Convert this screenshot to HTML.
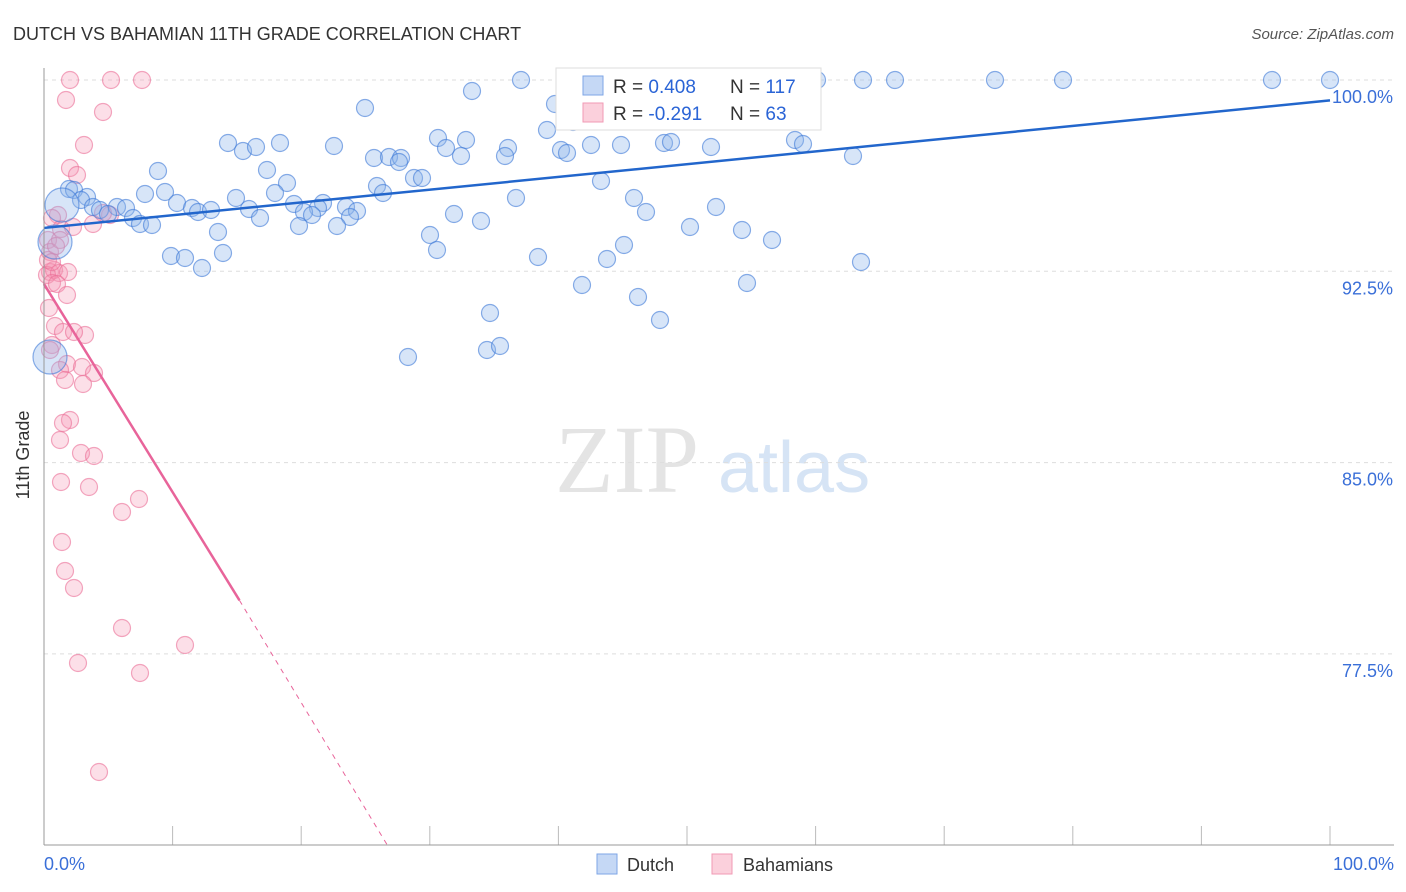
<!DOCTYPE html>
<html><head><meta charset="utf-8">
<style>
body{margin:0;background:#fff;font-family:"Liberation Sans",sans-serif;}
#wrap{position:relative;width:1406px;height:892px;overflow:hidden;}
</style></head>
<body>
<div id="wrap">
<svg id="chart" width="1406" height="892">
<text x="13" y="40" font-size="18" fill="#333">DUTCH VS BAHAMIAN 11TH GRADE CORRELATION CHART</text>
<text x="1394" y="39" font-size="15" fill="#555" text-anchor="end" font-style="italic">Source: ZipAtlas.com</text>
<text x="555" y="492" font-size="96" fill="#e4e4e4" font-family="Liberation Serif">ZIP</text>
<text x="718" y="492" font-size="72" fill="#d6e4f5">atlas</text>
<g id="grid"></g><g id="pts"></g><g id="lines"></g>
<line x1="44" y1="68" x2="44" y2="845" stroke="#999"/>
<line x1="44" y1="845" x2="1394" y2="845" stroke="#999"/>
<text x="29" y="455" font-size="18" fill="#333" text-anchor="middle" transform="rotate(-90 29 455)">11th Grade</text>
<text x="44" y="870" font-size="18" fill="#3a6fd8">0.0%</text>
<text x="1394" y="870" font-size="18" fill="#3a6fd8" text-anchor="end">100.0%</text>
<g>
<rect x="556" y="68" width="265" height="62" fill="#fff" stroke="#ddd"/>
<rect x="583" y="76" width="20" height="19" fill="#c5d8f5" stroke="#7ea6e6"/>
<rect x="583" y="103" width="20" height="19" fill="#fbd0dc" stroke="#f09ab4"/>
<text x="613" y="93" font-size="19" fill="#333">R = <tspan fill="#2a64d6">0.408</tspan></text>
<text x="730" y="93" font-size="19" fill="#333">N = <tspan fill="#2a64d6">117</tspan></text>
<text x="613" y="120" font-size="19" fill="#333">R = <tspan fill="#2a64d6">-0.291</tspan></text>
<text x="730" y="120" font-size="19" fill="#333">N = <tspan fill="#2a64d6"> 63</tspan></text>
</g>
<g>
<rect x="597" y="854" width="20" height="20" fill="#c5d8f5" stroke="#7ea6e6"/>
<text x="627" y="871" font-size="18" fill="#333">Dutch</text>
<rect x="712" y="854" width="20" height="20" fill="#fbd0dc" stroke="#f09ab4"/>
<text x="743" y="871" font-size="18" fill="#333">Bahamians</text>
</g>
</svg>
</div>
<script>
const yTicks=[100,92.5,85,77.5];
const yTickLabels=["100.0%","92.5%","85.0%","77.5%"];
const dutchPx=[[521,80],[817,80],[863,80],[895,80],[995,80],[1063,80],[1272,80],[1330,80],[472,91],[365,108],[555,104],[728,104],[573,122],[547,130],[228,143],[243,151],[256,147],[280,143],[334,146],[438,138],[466,140],[446,148],[461,156],[508,148],[505,156],[561,150],[567,153],[591,145],[621,145],[664,143],[671,142],[711,147],[795,140],[803,144],[853,156],[158,171],[267,170],[374,158],[389,157],[401,158],[399,162],[414,178],[422,178],[287,183],[377,186],[383,193],[275,193],[601,181],[69,189],[74,190],[87,197],[81,200],[145,194],[165,192],[236,198],[516,198],[634,198],[716,207],[93,207],[100,210],[117,207],[126,208],[108,214],[133,218],[140,224],[152,225],[177,203],[192,208],[198,212],[211,210],[249,209],[260,218],[294,204],[323,203],[318,208],[304,212],[312,215],[346,207],[357,211],[350,217],[299,226],[337,226],[454,214],[481,221],[646,212],[690,227],[742,230],[772,240],[218,232],[430,235],[437,250],[624,245],[538,257],[607,259],[861,262],[171,256],[185,258],[202,268],[223,253],[582,285],[638,297],[747,283],[490,313],[660,320],[408,357],[487,350],[500,346]];
const dutchBigPx=[[55,242],[62,205],[50,357]];
const bahPx=[[70,80],[111,80],[142,80],[66,100],[103,112],[84,145],[70,168],[77,175],[58,215],[52,218],[61,229],[73,227],[93,224],[110,215],[103,213],[48,240],[50,252],[50,272],[54,270],[47,275],[59,273],[68,272],[52,283],[57,284],[67,295],[49,308],[55,326],[63,332],[85,335],[74,332],[52,345],[67,364],[60,370],[82,367],[94,373],[65,380],[83,384],[70,420],[63,423],[60,440],[81,453],[94,456],[61,482],[89,487],[139,499],[122,512],[62,542],[65,571],[74,588],[122,628],[185,645],[78,663],[140,673],[99,772],[50,350],[48,260],[60,240],[56,246],[52,262]];
// convert reading to data values (x %, y %)
const toData=p=>[(p[0]-44)/12.86,100-(p[1]-80)/25.507];
const dutchX=dutchPx.map(p=>toData(p)[0]), dutchY=dutchPx.map(p=>toData(p)[1]);
const dutchBigX=dutchBigPx.map(p=>toData(p)[0]), dutchBigY=dutchBigPx.map(p=>toData(p)[1]);
const bahX=bahPx.map(p=>toData(p)[0]), bahY=bahPx.map(p=>toData(p)[1]);
const dutchTrend=[[0,94.2],[100,99.2]];
const bahTrend=[[0,92.0],[15.2,79.6],[26.7,70.0]];
const sx=v=>44+v*12.86, sy=v=>80+(100-v)*25.507;
const NS="http://www.w3.org/2000/svg";
function mk(tag,attrs,parent){const e=document.createElementNS(NS,tag);for(const k in attrs)e.setAttribute(k,attrs[k]);parent.appendChild(e);return e;}
const grid=document.getElementById('grid');
yTicks.forEach((t,i)=>{
 const l=mk('line',{x1:44,x2:1394,y1:sy(t),y2:sy(t),stroke:'#ddd','stroke-dasharray':'4,4'},grid);
 
 
 const tx=mk('text',{x:1393,y:sy(t)+23,'font-size':18,fill:'#3a6fd8','text-anchor':'end'},grid);
 tx.textContent=yTickLabels[i];
 
 
});
for(let i=1;i<=10;i++){const x=44+i*128.6;const l=mk('line',{x1:x,x2:x,y1:826,y2:845,stroke:'#bbb'},grid);
 
 }
const pts=document.getElementById('pts');
bahX.forEach((x,i)=>{const c=mk('circle',{cx:sx(x),cy:sy(bahY[i]),r:8.5,fill:'rgba(245,150,180,0.3)',stroke:'rgba(235,110,150,0.6)','stroke-width':1.2},pts);
 
 });
dutchX.forEach((x,i)=>{const c=mk('circle',{cx:sx(x),cy:sy(dutchY[i]),r:8.5,fill:'rgba(140,180,235,0.35)',stroke:'rgba(60,120,215,0.6)','stroke-width':1.2},pts);
 
 });
dutchBigX.forEach((x,i)=>{const c=mk('circle',{cx:sx(x),cy:sy(dutchBigY[i]),r:17,fill:'rgba(140,180,235,0.35)',stroke:'rgba(60,120,215,0.6)','stroke-width':1.2},pts);
 
 });
const lines=document.getElementById('lines');
const dl=mk('line',{x1:sx(dutchTrend[0][0]),y1:sy(dutchTrend[0][1]),x2:sx(dutchTrend[1][0]),y2:sy(dutchTrend[1][1]),stroke:'#2266cc','stroke-width':2.5},lines);


const bl=mk('line',{x1:sx(bahTrend[0][0]),y1:sy(bahTrend[0][1]),x2:sx(bahTrend[1][0]),y2:sy(bahTrend[1][1]),stroke:'#e8649a','stroke-width':2.5},lines);


const bd=mk('line',{x1:sx(bahTrend[1][0]),y1:sy(bahTrend[1][1]),x2:sx(bahTrend[2][0]),y2:sy(bahTrend[2][1]),stroke:'#e8649a','stroke-width':1,'stroke-dasharray':'5,5'},lines);


</script>
</body></html>
